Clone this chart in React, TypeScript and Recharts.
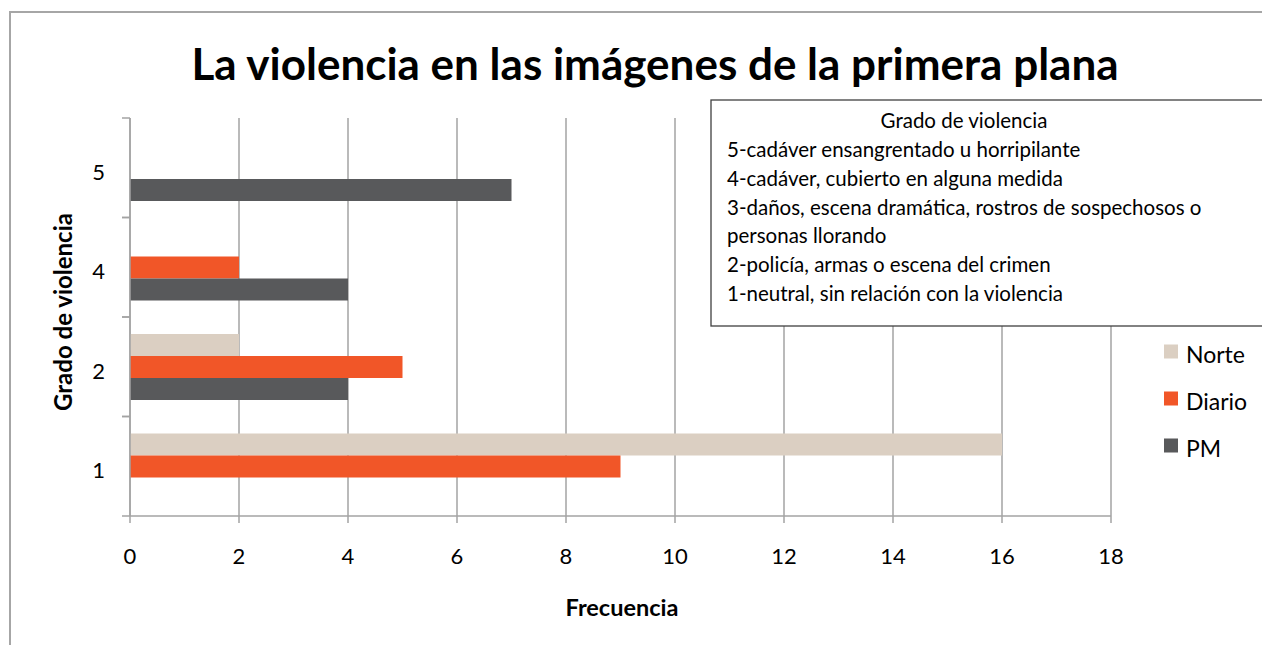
import { Bar, BarChart, CartesianGrid, XAxis, YAxis } from "recharts";

// grados de violencia, de arriba hacia abajo
const categories = ["5", "4", "2", "1"];
const norte = [0, 0, 2, 16];
const diario = [0, 2, 5, 9];
const pm = [7, 4, 4, 0];
const xTicks = [0, 2, 4, 6, 8, 10, 12, 14, 16, 18];

const series = [
  { key: "norte", name: "Norte", color: "#dbcfc2" },
  { key: "diario", name: "Diario", color: "#f15628" },
  { key: "pm", name: "PM", color: "#58595b" }
];

const noteTitle = "Grado de violencia";
const noteLines = [
  "5-cadáver ensangrentado u horripilante",
  "4-cadáver, cubierto en alguna medida",
  "3-daños, escena dramática, rostros de sospechosos o",
  "personas llorando",
  "2-policía, armas o escena del crimen",
  "1-neutral, sin relación con la violencia"
];

const data = categories.map((grado, i) => ({
  grado,
  norte: norte[i],
  diario: diario[i],
  pm: pm[i]
}));

const FONT = "Lato, 'Open Sans', sans-serif";
const GRID = "#a3a3a3";
const Y_TICK_MARGIN = 25;

function YTick(props: any) {
  const { x, y, payload } = props;
  const half = payload.offset ?? 49.75;
  const axisX = x + Y_TICK_MARGIN;
  return (
    <g>
      <line x1={axisX - 8} x2={axisX} y1={y - half} y2={y - half} stroke={GRID} strokeWidth={1.5} />
      <line x1={axisX - 8} x2={axisX} y1={y + half} y2={y + half} stroke={GRID} strokeWidth={1.5} />
      <text x={x} y={y} dy="0.55em" textAnchor="end" fontSize={22} fill="#000" fontFamily={FONT}>
        {payload.value}
      </text>
    </g>
  );
}

export default function App() {
  return (
    <div
      style={{
        position: "absolute",
        left: 0,
        top: 0,
        width: 1262,
        height: 645,
        overflow: "hidden",
        background: "#fff",
        fontFamily: FONT
      }}
    >
      <BarChart
        width={1262}
        height={645}
        data={data}
        layout="vertical"
        barGap={0}
        barSize={22}
        margin={{ top: 118, right: 151, bottom: 69, left: 0 }}
      >
        <CartesianGrid horizontal={false} stroke={GRID} strokeWidth={1.5} />
        <XAxis
          type="number"
          domain={[0, 18]}
          ticks={xTicks}
          height={60}
          stroke={GRID}
          strokeWidth={1.5}
          tickSize={7}
          tickMargin={25}
          tick={{ fill: "#000", fontSize: 22, fontFamily: FONT }}
        />
        <YAxis
          type="category"
          dataKey="grado"
          width={130}
          stroke={GRID}
          strokeWidth={1.5}
          tickLine={false}
          tickSize={0}
          tickMargin={Y_TICK_MARGIN}
          tick={<YTick />}
        />
        {series.map((s) => (
          <Bar key={s.key} dataKey={s.key} name={s.name} fill={s.color} isAnimationActive={false} />
        ))}
      </BarChart>

      <svg
        width={1262}
        height={645}
        style={{ position: "absolute", left: 0, top: 0, pointerEvents: "none" }}
        fontFamily={FONT}
      >
        <rect x={10} y={12} width={1400} height={800} fill="none" stroke="#a6a6a6" strokeWidth={2} />
        <text x={655} y={80} textAnchor="middle" fontSize={44} fontWeight={700} fill="#000">
          La violencia en las imágenes de la primera plana
        </text>
        <text
          x={72}
          y={312}
          transform="rotate(-90 72 312)"
          textAnchor="middle"
          fontSize={24}
          fontWeight={700}
          fill="#000"
        >
          Grado de violencia
        </text>
        <text x={622} y={616} textAnchor="middle" fontSize={23.5} fontWeight={700} fill="#000">
          Frecuencia
        </text>

        <rect x={711} y={100} width={700} height={226} fill="#fff" stroke="#404040" strokeWidth={1.3} />
        <text x={964} y={128} textAnchor="middle" fontSize={20.5} fill="#000">
          {noteTitle}
        </text>
        {noteLines.map((line, i) => (
          <text key={i} x={727} y={157 + i * 28.8} fontSize={20.5} fill="#000">
            {line}
          </text>
        ))}

        {series.map((s, i) => (
          <g key={s.key}>
            <rect x={1164} y={344.5 + i * 47} width={14} height={14} fill={s.color} />
            <text x={1186} y={363 + i * 47} fontSize={23} fill="#000">
              {s.name}
            </text>
          </g>
        ))}
      </svg>
    </div>
  );
}
